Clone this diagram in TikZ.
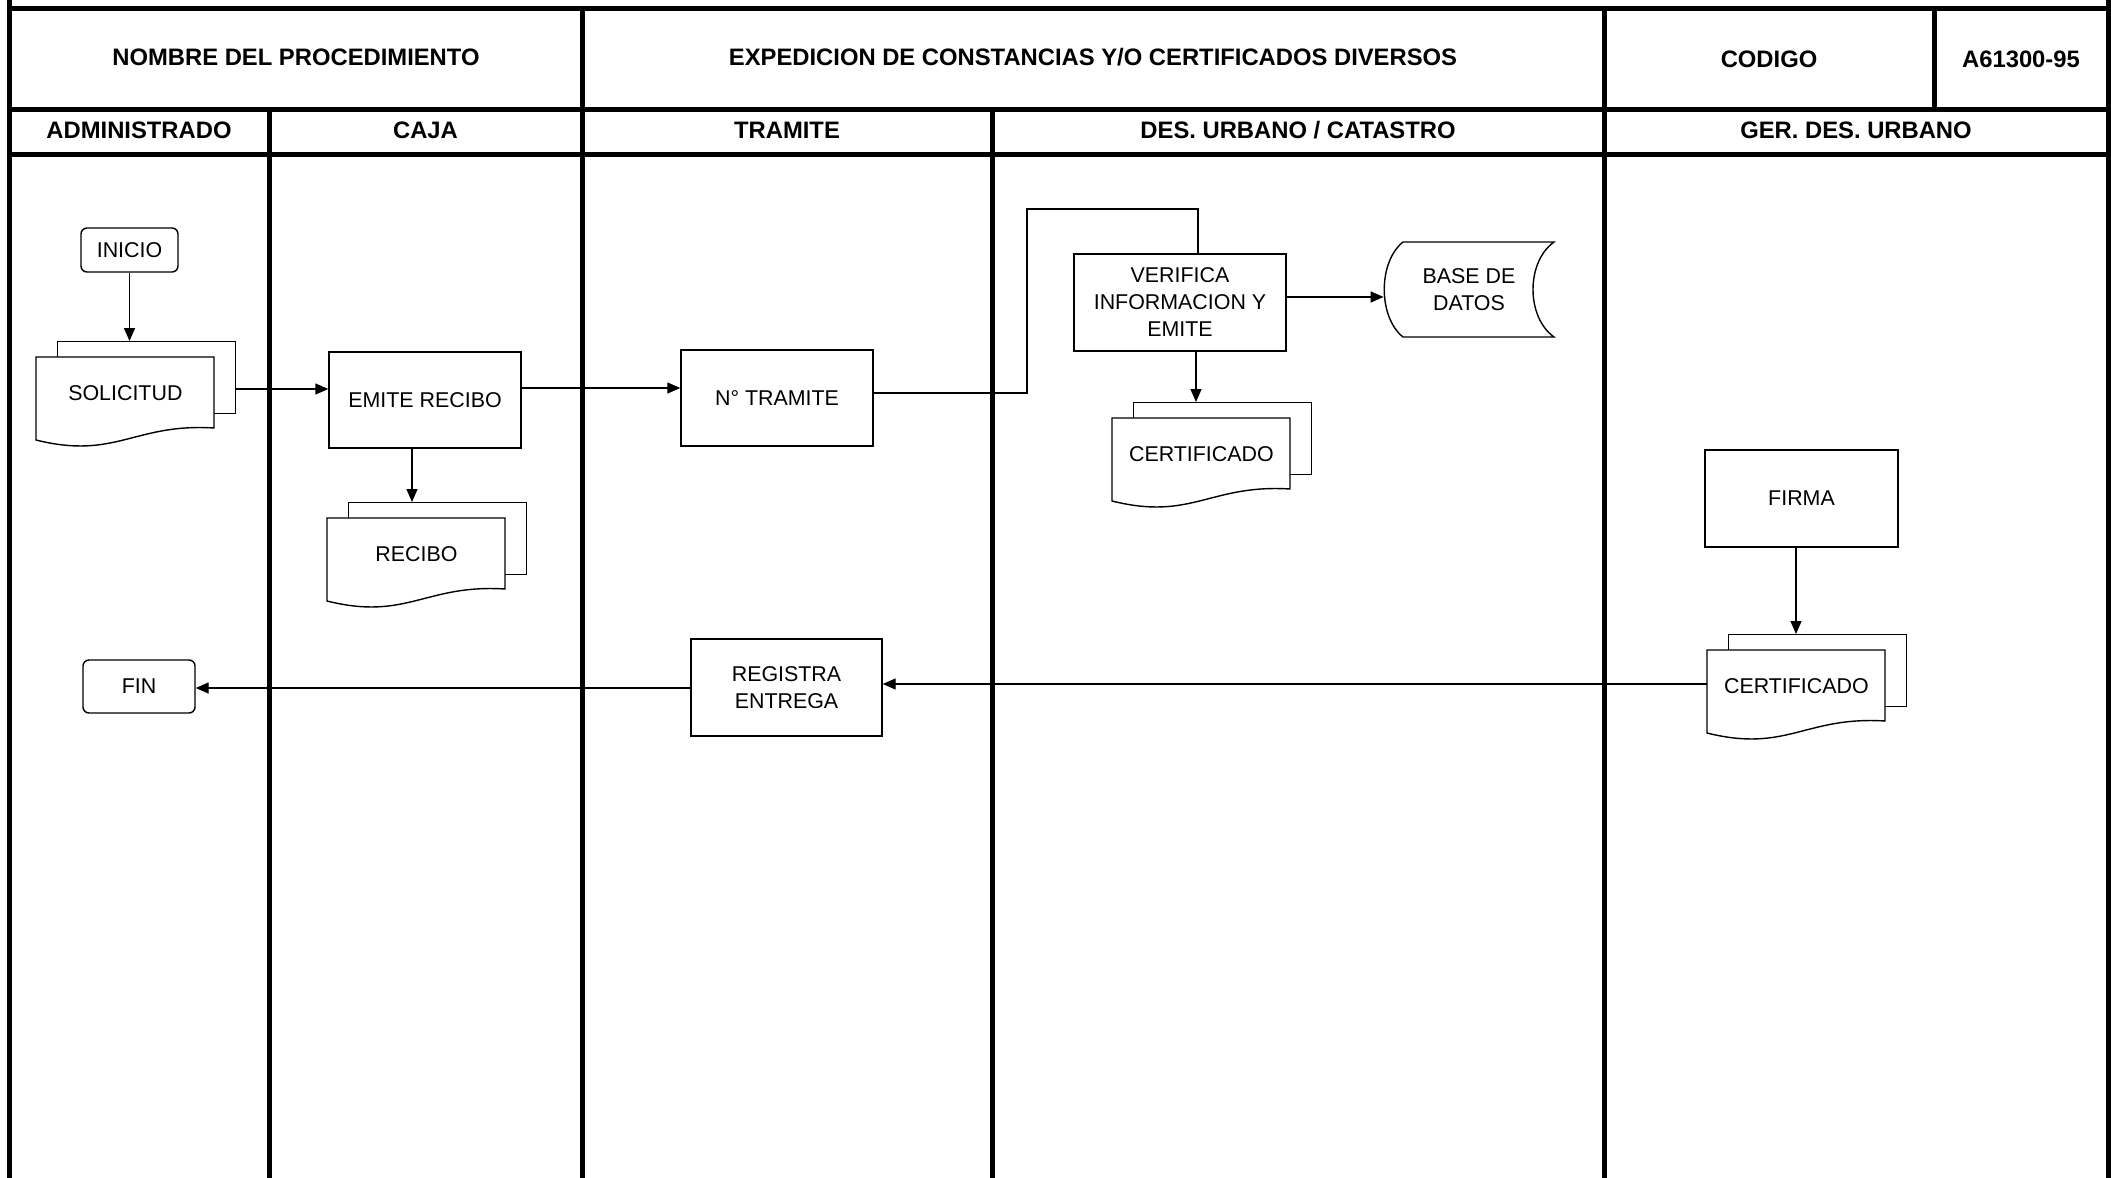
\documentclass[tikz,border=0pt]{standalone}
\usepackage{fontspec}
\setmainfont{Liberation Sans}
\usetikzlibrary{arrows.meta}
\newcommand{\bodyfont}{\fontsize{10.7}{13.5}\selectfont}
\newcommand{\hdrfont}{\fontsize{11.9}{14}\selectfont\bfseries}
\newcommand{\docstack}[4]{%
  \node[draw, line width=0.7pt, fill=white, minimum width=89pt, minimum height=36pt, anchor=north west, inner sep=0pt] (#1b) at (#2+21,#3-16) {};
  \draw[line width=0.7pt, fill=white] (#2,#3) -- (#2+178,#3) -- (#2+178,#3+71) .. controls (#2+98,#3+66) and (#2+80,#3+103) .. (#2,#3+83) -- cycle;
  \node[minimum width=89pt, minimum height=35.5pt, anchor=north west, inner sep=0pt, font=\bodyfont] (#1) at (#2,#3) {#4};
}
\begin{document}
\begin{tikzpicture}[x=0.5pt,y=-0.5pt,
  thk/.style={line width=2.5pt},
  ln/.style={line width=0.7pt},
  proc/.style={draw, line width=0.7pt, fill=white, font=\bodyfont, align=center, inner sep=0pt},
  term/.style={proc, rounded corners=3pt},
  hdr/.style={font=\hdrfont, inner sep=0pt},
  arr/.style={line width=0.7pt, -{Triangle[length=6.5pt,width=5.5pt]}}]
\useasboundingbox (0,0) rectangle (2111,1178);
\fill[white] (0,0) rectangle (2111,1178);

% table frame
\draw[thk] (9.5,8) -- (2108,8);
\draw[thk] (9.5,109) -- (2108,109);
\draw[thk] (9.5,154) -- (2108,154);
\draw[thk] (9.5,0) -- (9.5,1178);
\draw[thk] (2108,0) -- (2108,1178);
\draw[thk] (582,8) -- (582,1178);
\draw[thk] (1604,8) -- (1604,1178);
\draw[thk] (1934,8) -- (1934,109);
\draw[thk] (269,109) -- (269,1178);
\draw[thk] (992,109) -- (992,1178);

% header texts
\node[hdr] (hnombre) at (296,57) {NOMBRE DEL PROCEDIMIENTO};
\node[hdr] (hexp) at (1093,57) {EXPEDICION DE CONSTANCIAS Y/O CERTIFICADOS DIVERSOS};
\node[hdr] (hcod) at (1769,59) {CODIGO};
\node[hdr] (hnum) at (2021,59) {A61300-95};
\node[hdr] (ladm) at (139,130) {ADMINISTRADO};
\node[hdr] (lcaja) at (425.5,130) {CAJA};
\node[hdr] (ltram) at (787,130) {TRAMITE};
\node[hdr] (ldes) at (1298,130) {DES. URBANO / CATASTRO};
\node[hdr] (lger) at (1856,130) {GER. DES. URBANO};

% process nodes
\node[term, minimum width=48.5pt, minimum height=22pt] (inicio) at (129.5,250) {INICIO};
\node[term, minimum width=56pt, minimum height=26.5pt] (fin) at (139,686.5) {FIN};
\node[proc, minimum width=96pt, minimum height=48pt] (emite) at (425,400) {EMITE RECIBO};
\node[proc, minimum width=96pt, minimum height=48pt] (tramite) at (777,398) {N° TRAMITE};
\node[proc, minimum width=106pt, minimum height=48.5pt] (verifica) at (1180,302.5) {VERIFICA\\INFORMACION Y\\EMITE};
\node[proc, minimum width=96.5pt, minimum height=48.5pt] (firma) at (1801.5,498.5) {FIRMA};
\node[proc, minimum width=95.5pt, minimum height=48.5pt] (registra) at (786.5,687.5) {REGISTRA\\ENTREGA};

% documents
\docstack{soli}{36}{357}{SOLICITUD}
\docstack{recibo}{327}{518}{RECIBO}
\docstack{certd}{1112}{418}{CERTIFICADO}
\docstack{certg}{1707}{650}{CERTIFICADO}

% stored data
\draw[ln, fill=white] (1403,242) -- (1554,242) .. controls (1526,262) and (1526,317) .. (1554,337) -- (1403,337) .. controls (1378,317) and (1378,262) .. (1403,242) -- cycle;
\node[minimum width=85pt, minimum height=47.5pt, inner sep=0pt, font=\bodyfont, align=center] (base) at (1469,289.5) {BASE DE\\DATOS};

% connectors
\draw[arr] (inicio.south) -- (inicio.south |- solib.north);
\draw[arr] (solib.east |- 0,389) -- (emite.west |- 0,389);
\draw[arr] (emite.east |- 0,388) -- (tramite.west |- 0,388);
\draw[arr] (emite.south -| 412,0) -- (recibob.north -| 412,0);
\draw[ln] (tramite.east |- 0,393) -- (1027,393) -- (1027,209) -- (1198,209) -- (verifica.north -| 1198,0);
\draw[arr] (verifica.east |- 0,297) -- (base.west |- 0,297);
\draw[arr] (verifica.south -| 1196,0) -- (certdb.north -| 1196,0);
\draw[arr] (firma.south -| 1796,0) -- (certgb.north -| 1796,0);
\draw[arr] (certg.west |- 0,684) -- (registra.east |- 0,684);
\draw[arr] (registra.west |- 0,688) -- (fin.east |- 0,688);
\end{tikzpicture}
\end{document}
